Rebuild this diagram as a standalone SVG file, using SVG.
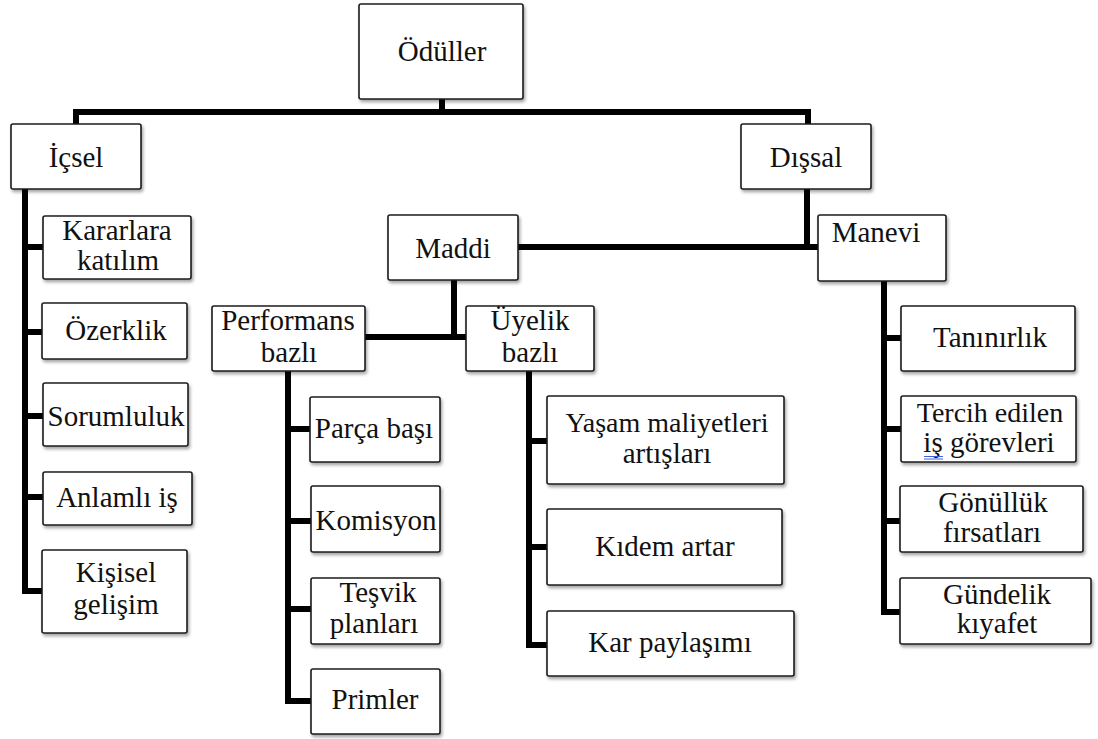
<svg xmlns="http://www.w3.org/2000/svg" width="1098" height="739" viewBox="0 0 1098 739">
  <defs>
    <filter id="shadow" x="-10%" y="-10%" width="125%" height="135%">
      <feDropShadow dx="1.5" dy="2.5" stdDeviation="1.6" flood-color="#000" flood-opacity="0.35"/>
    </filter>
    <style>
      .box { fill: #fff; stroke: #1c1c1c; stroke-width: 1.6; filter: url(#shadow); }
      .wire { fill: none; stroke: #000; stroke-width: 6; stroke-linejoin: miter; stroke-linecap: butt; }
    </style>
  </defs>
  <rect width="1098" height="739" fill="#fff"/>

  <!-- connectors -->
  <g id="connectors" class="wire">
    <path d="M442 99 V112"/>
    <path d="M76 124 V112 H808 V124"/>
    <path d="M25 189 V591 H43 M22 247 H43 M22 332 H42 M22 416 H43 M22 497 H43"/>
    <path d="M807 189 V250 M518 247 H818"/>
    <path d="M454 280 V337 M365 337 H466"/>
    <path d="M288 371 V701 H311 M285 429 H310 M285 521 H311 M285 609 H311"/>
    <path d="M529 371 V645 H547 M526 441 H547 M526 547 H547"/>
    <path d="M884 281 V612 H900 M881 338 H901 M881 429 H901 M881 521 H900"/>
  </g>

  <!-- nodes; labels set in a Times-style serif -->
  <g font-family="Times New Roman, Liberation Serif, Tinos, Noto Serif, DejaVu Serif, FreeSerif, serif" font-size="29" fill="#111" text-anchor="middle">
  <g id="oduller">
    <rect class="box" x="359" y="4" width="164" height="95" rx="2"/>
    <text x="442" y="61">Ödüller</text>
  </g>
  <g id="icsel">
    <rect class="box" x="11" y="124" width="130" height="65" rx="2"/>
    <text x="76" y="167">İçsel</text>
  </g>
  <g id="dissal">
    <rect class="box" x="741" y="124" width="130" height="65" rx="2"/>
    <text x="806" y="167">Dışsal</text>
  </g>
  <g id="maddi">
    <rect class="box" x="388" y="215" width="130" height="65" rx="2"/>
    <text x="453" y="258">Maddi</text>
  </g>
  <g id="manevi">
    <rect class="box" x="818" y="215" width="128" height="66" rx="2"/>
    <text x="876" y="242">Manevi</text>
  </g>

  <g id="kararlara">
    <rect class="box" x="43" y="216" width="148" height="63" rx="2"/>
    <text x="117" y="240">Kararlara</text>
    <text x="118" y="270">katılım</text>
  </g>
  <g id="ozerklik">
    <rect class="box" x="42" y="303" width="145" height="56" rx="2"/>
    <text x="116" y="340">Özerklik</text>
  </g>
  <g id="sorumluluk">
    <rect class="box" x="43" y="383" width="145" height="63" rx="2"/>
    <text x="116" y="426">Sorumluluk</text>
  </g>
  <g id="anlamli-is">
    <rect class="box" x="43" y="472" width="149" height="53" rx="2"/>
    <text x="117" y="507">Anlamlı iş</text>
  </g>
  <g id="kisisel-gelisim">
    <rect class="box" x="42" y="550" width="145" height="83" rx="2"/>
    <text x="116" y="582">Kişisel</text>
    <text x="116" y="614">gelişim</text>
  </g>

  <g id="performans">
    <rect class="box" x="212" y="306" width="153" height="65" rx="2"/>
    <text x="288" y="330">Performans</text>
    <text x="289" y="362">bazlı</text>
  </g>
  <g id="uyelik">
    <rect class="box" x="466" y="306" width="128" height="65" rx="2"/>
    <text x="530" y="330">Üyelik</text>
    <text x="530" y="362">bazlı</text>
  </g>

  <g id="parca-basi">
    <rect class="box" x="310" y="397" width="130" height="65" rx="2"/>
    <text x="374" y="438">Parça başı</text>
  </g>
  <g id="komisyon">
    <rect class="box" x="311" y="486" width="129" height="66" rx="2"/>
    <text x="376" y="530">Komisyon</text>
  </g>
  <g id="tesvik">
    <rect class="box" x="311" y="578" width="129" height="66" rx="2"/>
    <text x="378" y="602">Teşvik</text>
    <text x="374" y="633">planları</text>
  </g>
  <g id="primler">
    <rect class="box" x="311" y="669" width="129" height="65" rx="2"/>
    <text x="375" y="709">Primler</text>
  </g>

  <g id="yasam">
    <rect class="box" x="547" y="396" width="237" height="88" rx="2"/>
    <text x="667" y="432" font-size="28">Yaşam maliyetleri</text>
    <text x="667" y="463">artışları</text>
  </g>
  <g id="kidem">
    <rect class="box" x="547" y="509" width="235" height="76" rx="2"/>
    <text x="665" y="556">Kıdem artar</text>
  </g>
  <g id="kar">
    <rect class="box" x="547" y="611" width="247" height="65" rx="2"/>
    <text x="670" y="652">Kar paylaşımı</text>
  </g>

  <g id="taninirlik">
    <rect class="box" x="901" y="306" width="174" height="65" rx="2"/>
    <text x="990" y="347">Tanınırlık</text>
  </g>
  <g id="tercih">
    <rect class="box" x="901" y="396" width="175" height="66" rx="2"/>
    <text x="990" y="422" font-size="28">Tercih edilen</text>
    <text x="989" y="452">iş görevleri</text>
    <path d="M924 456.5 H943 M924 459 H943" stroke="#3d5fd8" stroke-width="1" fill="none"/>
  </g>
  <g id="gonulluk">
    <rect class="box" x="900" y="486" width="183" height="66" rx="2"/>
    <text x="993" y="512">Gönüllük</text>
    <text x="992" y="542">fırsatları</text>
  </g>
  <g id="gundelik">
    <rect class="box" x="900" y="578" width="191" height="66" rx="2"/>
    <text x="997" y="604">Gündelik</text>
    <text x="997" y="633">kıyafet</text>
  </g>
  </g>
</svg>
